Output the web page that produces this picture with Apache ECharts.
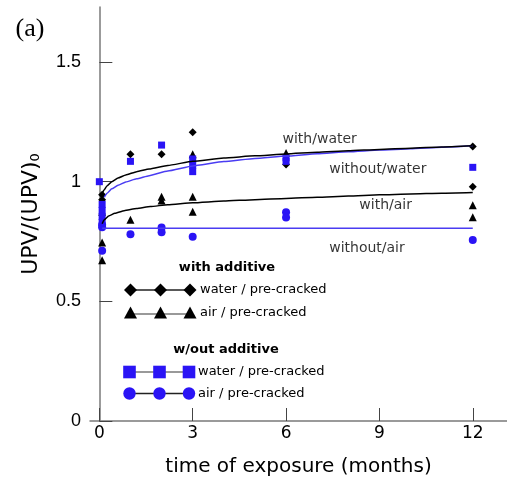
<!DOCTYPE html>
<html>
<head>
<meta charset="utf-8">
<script src="https://cdn.jsdelivr.net/npm/echarts@6/dist/echarts.min.js"></script>
<style>
  html, body { margin: 0; padding: 0; background: #fff; }
  #chart { width: 507px; height: 485px; }
</style>
</head>
<body>
<div id="chart"></div>
<script>
// Axis tick positions
const monthTicks = [0, 3, 6, 9, 12];
const upvTicks = [0, 0.5, 1, 1.5];

// Measured points: [months of exposure, UPV/(UPV)0]
const withAdditiveWater = [[0.09, 0.945], [0.09, 0.925], [1, 1.115], [2, 1.115], [3, 1.207], [6, 1.072], [12, 1.147], [12, 0.979]];
const withAdditiveAir = [[0.09, 0.874], [0.09, 0.746], [0.09, 0.672], [1, 0.841], [2, 0.937], [2, 0.921], [3, 1.115], [3, 0.937], [3, 0.874], [6, 1.12], [12, 0.902], [12, 0.851]];
const withoutAdditiveWater = [[0, 1.0], [0.09, 0.905], [0.09, 0.88], [0.09, 0.855], [0.09, 0.83], [1, 1.085], [2, 1.153], [3, 1.095], [3, 1.068], [3, 1.042], [6, 1.1], [6, 1.085], [12, 1.06]];
const withoutAdditiveAir = [[0.09, 0.82], [0.09, 0.81], [0.09, 0.711], [1, 0.78], [2, 0.809], [2, 0.789], [3, 0.77], [6, 0.872], [6, 0.85], [12, 0.756]];

// Trend curves
const trendWithWater = [[0.09, 0.95], [0.15, 0.965], [0.25, 0.983], [0.4, 1.0], [0.6, 1.015], [0.85, 1.028], [1.2, 1.042], [1.6, 1.053], [2.2, 1.068], [3, 1.085], [4, 1.099], [5, 1.108], [6, 1.116], [7, 1.123], [8, 1.129], [9, 1.135], [10, 1.14], [11, 1.145], [12, 1.15]];
const trendWithoutWater = [[0.16, 0.935], [0.25, 0.952], [0.4, 0.97], [0.6, 0.985], [0.85, 0.999], [1.2, 1.012], [1.6, 1.025], [2.2, 1.045], [3, 1.066], [4, 1.084], [5, 1.097], [6, 1.107], [7, 1.117], [8, 1.125], [9, 1.132], [10, 1.138], [11, 1.144], [12, 1.15]];
const trendWithAir = [[0.09, 0.824], [0.15, 0.84], [0.3, 0.857], [0.5, 0.868], [0.8, 0.879], [1.2, 0.888], [1.64, 0.896], [2.2, 0.904], [3, 0.912], [4, 0.919], [5, 0.925], [6, 0.93], [7, 0.935], [8, 0.94], [9, 0.945], [10, 0.949], [11, 0.952], [12, 0.955]];
const trendWithoutAir = [[0.09, 0.805], [12, 0.805]];

// Curve labels: [text, months, value]
const curveLabels = [['with/water', 7.08, 1.178], ['without/water', 8.95, 1.05], ['with/air', 9.2, 0.9], ['without/air', 8.6, 0.72]];

const BLUE = '#2a14f5';
const BLUE_LINE = '#4a3cf2';
const HAND = "'Comic Sans MS', 'DejaVu Sans', sans-serif";

const chart = echarts.init(document.getElementById('chart'), null, { renderer: 'canvas' });

function trend(data, color) {
  return {
    type: 'line', data: data, showSymbol: false, symbol: 'none',
    smooth: 0.15, smoothMonotone: 'x',
    lineStyle: { color: color, width: 1.5 }, z: 5, silent: true
  };
}
function dots(data, symbol, size, color) {
  return {
    type: 'scatter', data: data, symbol: symbol, symbolSize: size,
    itemStyle: { color: color, opacity: 1 }, z: 3, silent: true
  };
}

// Legend block drawn as graphic elements
function diamond(cx, cy, r) { return { type: 'polygon', shape: { points: [[cx, cy - r], [cx + r, cy], [cx, cy + r], [cx - r, cy]] }, style: { fill: '#000' } }; }
function triangle(cx, cy, r) { return { type: 'polygon', shape: { points: [[cx, cy - r], [cx + r, cy + r * 0.85], [cx - r, cy + r * 0.85]] }, style: { fill: '#000' } }; }
function square(cx, cy, r) { return { type: 'rect', shape: { x: cx - r, y: cy - r, width: 2 * r, height: 2 * r }, style: { fill: BLUE } }; }
function circle(cx, cy, r) { return { type: 'circle', shape: { cx: cx, cy: cy, r: r }, style: { fill: BLUE } }; }
function seg(x1, x2, y, color) { return { type: 'line', shape: { x1: x1, y1: y, x2: x2, y2: y }, style: { stroke: color, lineWidth: 1.3 } }; }
function txt(s, x, y, size, opts) {
  return { type: 'text', x: x, y: y, style: Object.assign({ text: s, fontSize: size, fontFamily: HAND, fill: '#000', align: 'left', verticalAlign: 'middle' }, opts || {}) };
}

const legendXs = [130.5, 160.5, 190];
const legendGraphics = [];
legendGraphics.push(txt('with additive', 227, 268, 13, { fontWeight: 'bold', align: 'center' }));
legendGraphics.push(seg(legendXs[0], legendXs[2], 290, '#222'));
legendXs.forEach(x => legendGraphics.push(diamond(x, 290, 6.5)));
legendGraphics.push(txt('water / pre-cracked', 200, 290, 13));
legendGraphics.push(seg(legendXs[0], legendXs[2], 314, '#777'));
legendXs.forEach(x => legendGraphics.push(triangle(x, 313, 6.5)));
legendGraphics.push(txt('air / pre-cracked', 200, 313, 13));
legendGraphics.push(txt('w/out additive', 226, 350, 13, { fontWeight: 'bold', align: 'center' }));
legendGraphics.push(seg(legendXs[0] - 1, legendXs[2] - 1, 372, '#777'));
legendXs.forEach(x => legendGraphics.push(square(x - 1, 372, 6.3)));
legendGraphics.push(txt('water / pre-cracked', 198, 372, 13));
legendGraphics.push(seg(legendXs[0] - 1, legendXs[2] - 1, 393.5, '#222'));
legendXs.forEach(x => legendGraphics.push(circle(x - 1, 393.5, 6.2)));
legendGraphics.push(txt('air / pre-cracked', 198, 393.5, 13));
legendGraphics.push({ type: 'text', x: 30, y: 29, style: { text: '(a)', fontSize: 26, fontFamily: "'Liberation Serif', 'DejaVu Serif', serif", fill: '#000', align: 'center', verticalAlign: 'middle' } });

const option = {
  animation: false,
  backgroundColor: '#fff',
  grid: { left: 90, right: 0, top: 7, bottom: 64, containLabel: false },
  xAxis: {
    type: 'value', min: -0.3, max: 13.1,
    name: 'time of exposure (months)', nameLocation: 'middle', nameGap: 36,
    nameTextStyle: { fontSize: 20, fontFamily: HAND, color: '#000' },
    axisLine: { show: true, lineStyle: { color: '#7a7a7a', width: 1.5 } },
    axisTick: { show: true, inside: true, length: 13, customValues: monthTicks, lineStyle: { color: '#444', width: 1 } },
    axisLabel: { customValues: monthTicks, fontSize: 17, fontFamily: HAND, color: '#000', margin: 4 },
    splitLine: { show: false }
  },
  yAxis: {
    type: 'value', min: 0, max: 1.73,
    name: '{m|UPV/(UPV)}{s|0}', nameLocation: 'middle', nameGap: 48,
    nameTextStyle: {
      color: '#000',
      rich: {
        m: { fontSize: 22, fontFamily: "'DejaVu Sans', sans-serif", color: '#000', verticalAlign: 'bottom', lineHeight: 26 },
        s: { fontSize: 13, fontFamily: "'DejaVu Sans', sans-serif", color: '#000', verticalAlign: 'bottom', lineHeight: 14 }
      }
    },
    axisLine: { show: true, lineStyle: { color: '#7a7a7a', width: 1.5 } },
    axisTick: { show: true, inside: true, length: 13, customValues: upvTicks, lineStyle: { color: '#444', width: 1 } },
    axisLabel: { customValues: upvTicks, fontSize: 18, fontFamily: "'Liberation Sans', Arial, sans-serif", color: '#000', margin: 9 },
    splitLine: { show: false }
  },
  series: [
    dots(withAdditiveWater, 'diamond', 8, '#000'),
    dots(withAdditiveAir, 'triangle', 8, '#000'),
    dots(withoutAdditiveWater, 'rect', 7, BLUE),
    dots(withoutAdditiveAir, 'circle', 8, BLUE),
    trend(trendWithoutAir, BLUE_LINE),
    trend(trendWithAir, '#000'),
    trend(trendWithoutWater, BLUE_LINE),
    trend(trendWithWater, '#000'),
    {
      type: 'scatter', symbolSize: 0, silent: true, z: 6,
      data: curveLabels.map(d => ({ value: [d[1], d[2]], name: d[0] })),
      label: { show: true, position: 'inside', formatter: p => p.name, fontSize: 14, fontFamily: HAND, color: '#000' }
    }
  ],
  graphic: { elements: legendGraphics }
};
chart.setOption(option);
</script>
</body>
</html>
